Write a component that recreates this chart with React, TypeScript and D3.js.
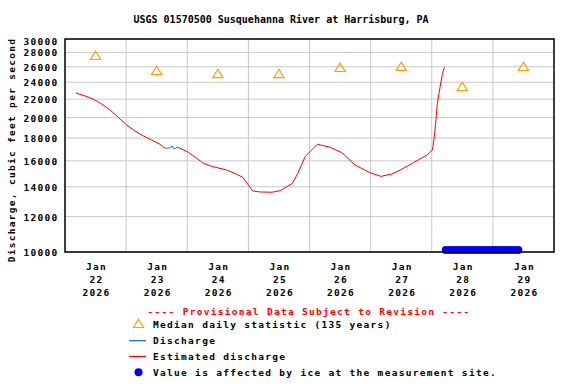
import React, { useEffect, useRef } from "react";
import * as d3 from "d3";

// hours after 2026-01-22 00:00
const estHours = [4.3, 7.9, 11.1, 14.4, 17.7, 20.9, 24.2, 27.5, 30.8, 34.1, 37.3, 38.4, 41, 44.1, 48.4, 51.7, 54.3, 58.3, 63.5, 67.4, 69.8, 72.0, 73.7, 76.6, 81.2, 84.5, 87.1, 89.3, 91.4, 94.3, 97.5, 99.1, 101.5, 104.1, 108.7, 113.9, 119.8, 124.1, 128.3, 131.6, 136.8, 142.1, 144.3, 145.3, 146.2, 147.3, 148.2, 149.0];
const estValues = [22700, 22360, 22000, 21450, 20800, 20030, 19250, 18660, 18190, 17810, 17430, 17190, null, 17190, 16730, 16220, 15800, 15520, 15260, 14930, 14700, 14130, 13700, 13630, 13610, 13720, 14010, 14250, 15010, 16350, 17070, 17430, 17300, 17160, 16690, 15660, 15050, 14770, 14950, 15260, 15850, 16490, 16920, 18760, 21530, 23460, 25130, 25930];

const dischargeHours = [38.5, 39.9, 41.0, 42.1, 42.5, 43.5, 44.0];
const dischargeValues = [17180, 17070, 17110, 17270, 17070, 17070, 17170];

const medianDays = ["2026-01-22", "2026-01-23", "2026-01-24", "2026-01-25", "2026-01-26", "2026-01-27", "2026-01-28", "2026-01-29"];
const medianValues = [27550, 25500, 25100, 25100, 25900, 26040, 23480, 26040];

const iceHours = [149.5, 151, 152.5, 154, 155.5, 157, 158.5, 160, 161.5, 163, 164.5, 166, 167.5, 169, 170.5, 172, 173.5, 175, 176.5, 178];
const iceValue = 10100;

const yTicks = [10000, 12000, 14000, 16000, 18000, 20000, 22000, 24000, 26000, 28000, 30000];

const legendItems = [
  "Median daily statistic (135 years)",
  "Discharge",
  "Estimated discharge",
  "Value is affected by ice at the measurement site.",
];

const FONT = "'DejaVu Sans Mono', 'Liberation Mono', monospace";
const FS = 9.5;
const LS = 1.3;
const start = new Date(2026, 0, 22);
const atHour = (h: number) => new Date(start.getTime() + h * 3600 * 1000);
const parseDay = d3.timeParse("%Y-%m-%d");

const W = 576, H = 384;
const left = 65, right = 554, top = 39, bottom = 252;

const drawChart = (el: SVGSVGElement) => {
  const svg = d3.select(el);
  svg.selectAll("*").remove();

  const x = d3.scaleTime().domain([start, new Date(2026, 0, 30)]).range([left, right]);
  const y = d3.scaleLog().domain([10000, 30000]).range([bottom, top]);

  // grid
  const days = d3.timeDay.range(new Date(2026, 0, 23), new Date(2026, 0, 30));
  svg.append("g").selectAll("line").data(days).join("line")
    .attr("x1", d => x(d)).attr("x2", d => x(d))
    .attr("y1", top).attr("y2", bottom)
    .attr("stroke", "#c8c8c8").attr("stroke-width", 1);
  svg.append("g").selectAll("line").data(yTicks).join("line")
    .attr("x1", left).attr("x2", right)
    .attr("y1", d => y(d)).attr("y2", d => y(d))
    .attr("stroke", "#c8c8c8").attr("stroke-width", 1);

  const txt = (sel: any) => sel
    .attr("font-family", FONT).attr("font-size", FS).attr("font-weight", "bold")
    .attr("letter-spacing", LS);

  // y tick labels (top one kept inside the frame, clear of 28000)
  svg.append("g").call(txt).attr("text-anchor", "end")
    .selectAll("text").data(yTicks).join("text")
      .attr("x", 58.5)
      .attr("y", d => Math.max(y(d), top + 2.5))
      .attr("dy", "0.42em")
      .text(d => String(d));

  // x labels
  const noons = medianDays.map(d => d3.timeHour.offset(parseDay(d) as Date, 12));
  const xl = svg.append("g").call(txt).attr("text-anchor", "middle");
  xl.selectAll("g").data(noons).join("g")
    .each(function (d) {
      const g = d3.select(this);
      [d3.timeFormat("%b")(d), d3.timeFormat("%d")(d), d3.timeFormat("%Y")(d)].forEach((t, i) => {
        g.append("text").attr("x", x(d) + 1).attr("y", 269.5 + i * 13).text(t);
      });
    });

  // data lines
  const est = estHours.map((h, i) => ({ t: atHour(h), v: estValues[i] }));
  const line = d3.line<{ t: Date; v: number | null }>()
    .defined(d => d.v != null)
    .x(d => x(d.t)).y(d => y(d.v as number));
  svg.append("path").attr("d", line(est)).attr("fill", "none").attr("stroke", "#ff0000").attr("stroke-width", 1);
  const dis = dischargeHours.map((h, i) => ({ t: atHour(h), v: dischargeValues[i] }));
  svg.append("path").attr("d", line(dis)).attr("fill", "none").attr("stroke", "#0a78d2").attr("stroke-width", 1);

  // medians
  const tri = "M0,-4.3L5.1,4L-5.1,4Z";
  svg.append("g").selectAll("path").data(noons).join("path")
    .attr("transform", (d, i) => `translate(${x(d)},${y(medianValues[i])})`)
    .attr("d", tri).attr("fill", "none").attr("stroke", "#ffa000").attr("stroke-width", 1.2);

  // ice
  svg.append("g").selectAll("circle").data(iceHours).join("circle")
    .attr("cx", d => x(atHour(d))).attr("cy", y(iceValue)).attr("r", 4)
    .attr("fill", "#0000ff");

  // frame
  svg.append("rect").attr("x", left).attr("y", top).attr("width", right - left).attr("height", bottom - top)
    .attr("fill", "none").attr("stroke", "#000").attr("stroke-width", 1.5);

  // title
  svg.append("text").attr("x", 281).attr("y", 23).attr("text-anchor", "middle")
    .attr("font-family", FONT).attr("font-size", 10).attr("font-weight", "bold")
    .text("USGS 01570500 Susquehanna River at Harrisburg, PA");

  // y axis label
  svg.append("text").call(txt).attr("transform", "translate(15,150) rotate(-90)").attr("text-anchor", "middle")
    .text("Discharge, cubic feet per second");

  // legend
  svg.append("text").call(txt).attr("x", 309).attr("y", 314.5).attr("text-anchor", "middle")
    .attr("fill", "#ff0000")
    .text("---- Provisional Data Subject to Revision ----");

  const rowY = [325, 340.7, 356.5, 372.3];
  const lg = svg.append("g");
  lg.selectAll("text").data(legendItems).join("text").call(txt)
    .attr("x", 153).attr("y", (d, i) => rowY[i]).attr("dy", "0.35em")
    .text(d => d);
  lg.append("path").attr("transform", `translate(138.5,${rowY[0] - 1.5})`).attr("d", tri)
    .attr("fill", "none").attr("stroke", "#ffa000").attr("stroke-width", 1.2);
  lg.append("line").attr("x1", 129).attr("x2", 146).attr("y1", rowY[1]).attr("y2", rowY[1])
    .attr("stroke", "#0a78d2").attr("stroke-width", 1.3);
  lg.append("line").attr("x1", 129).attr("x2", 146).attr("y1", rowY[2]).attr("y2", rowY[2])
    .attr("stroke", "#ff0000").attr("stroke-width", 1.3);
  lg.append("circle").attr("cx", 138.5).attr("cy", rowY[3]).attr("r", 4).attr("fill", "#0000ff");
};

const App = () => {
  const ref = useRef<SVGSVGElement>(null);
  useEffect(() => {
    if (ref.current) drawChart(ref.current);
  }, []);
  return (
    <svg ref={ref} width={W} height={H}
      style={{ position: "absolute", left: 0, top: 0, background: "#fff", display: "block" }} />
  );
};

export default App;
